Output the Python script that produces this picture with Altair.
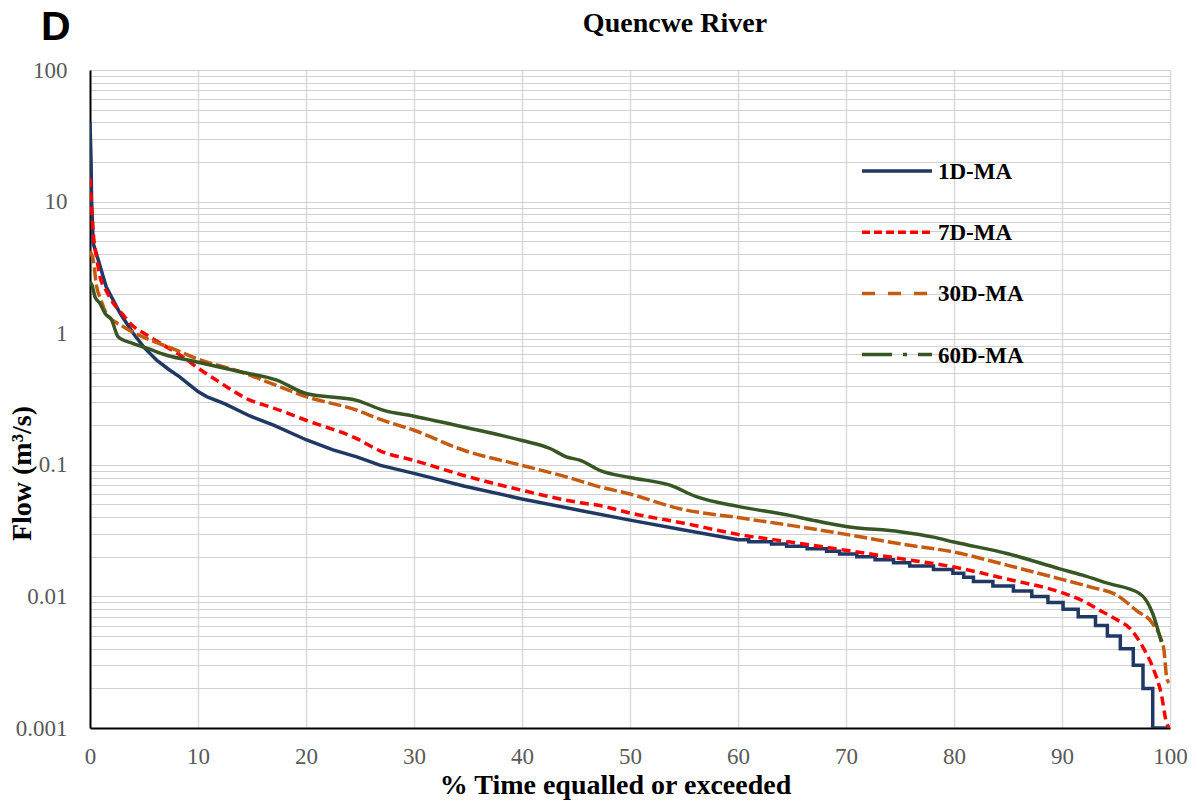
import altair as alt
import pandas as pd

# Flow duration curves, Quencwe River: % of time a flow (m3/s) is equalled or exceeded
series_names = ["1D-MA", "7D-MA", "30D-MA", "60D-MA"]
series_colors = ["#1f3864", "#ff0000", "#c55a11", "#375623"]
plot_dashes = [None, [9, 5], [13, 4], None]
legend_dashes = [None, [8, 4], [13, 13], [30, 11, 4, 11]]
# the 1D curve holds vertical steps, so it stays piecewise linear
curve_interp = ["linear", "monotone", "monotone", "monotone"]

# 1D-MA: smooth upper part, then the stepped low-flow tail (0.001 m3/s resolution)
d1_pct = [0, 0.1, 0.15, 0.3, 0.6, 1.5, 2.8, 4.0, 5.0, 6.2, 7.3, 8.3, 10.0, 10.8,
          12.5, 14.8, 17.0, 20.0, 22.5, 24.7, 26.9, 30.0, 34.6, 40.0, 45.4, 50.0,
          55.0, 60.0]
d1_flow = [40, 20, 10, 4.8, 4.0, 2.25, 1.41, 1.0, 0.78, 0.62, 0.53, 0.466, 0.36,
           0.33, 0.29, 0.235, 0.2, 0.155, 0.13, 0.115, 0.099, 0.086, 0.069, 0.055,
           0.045, 0.038, 0.032, 0.027]
d1_step_pct = [61.0, 63.1, 64.5, 66.4, 68.2, 69.4, 71.0, 72.7, 74.4, 75.9, 78.1,
               79.9, 80.9, 81.8, 83.6, 85.5, 87.2, 88.7, 90.1, 91.5, 93.1, 94.2,
               95.4, 96.6, 97.5, 98.4]
d1_step_flow = [0.026, 0.025, 0.024, 0.023, 0.022, 0.021, 0.020, 0.019, 0.018,
                0.017, 0.016, 0.015, 0.014, 0.013, 0.012, 0.011, 0.010, 0.009,
                0.008, 0.007, 0.006, 0.005, 0.004, 0.003, 0.002, 0.001]
d1_end_pct = 99.8

d7_pct = [0, 0.15, 0.3, 0.6, 0.93, 1.5, 2.16, 3.0, 3.7, 5.25, 7.4, 8.6, 9.9, 11.7,
          14.8, 17.0, 20, 24.7, 26.9, 30, 34.6, 40, 45.4, 47.2, 50, 55, 60, 65, 70,
          75, 80, 85, 89.8, 92, 93.8, 95, 96.3, 97.5, 98.4, 99.2, 99.7, 100]
d7_flow = [15, 9, 5.8, 3.8, 2.68, 2.1, 1.69, 1.4, 1.19, 0.97, 0.76, 0.66, 0.55,
           0.44, 0.31, 0.27, 0.218, 0.158, 0.127, 0.108, 0.083, 0.064, 0.0515,
           0.049, 0.043, 0.036, 0.0296, 0.0258, 0.0224, 0.0194, 0.0167, 0.0135,
           0.0108, 0.0092, 0.0076, 0.0067, 0.0057, 0.0041, 0.0029, 0.0018,
           0.00108, 0.001]

d30_pct = [0, 0.3, 0.6, 1.0, 1.5, 3.1, 5.25, 7.7, 9.9, 13.9, 17.3, 20, 24.7, 26.9,
           30, 34.6, 40, 44.1, 47.2, 50, 54.6, 60, 65, 70, 75, 80, 85, 89.8, 92.6,
           95.1, 96.9, 98.4, 99.4, 99.7, 99.9]
d30_flow = [4.2, 3.6, 2.3, 1.8, 1.42, 1.12, 0.91, 0.76, 0.64, 0.51, 0.40, 0.33,
            0.26, 0.221, 0.183, 0.129, 0.099, 0.081, 0.068, 0.060, 0.0464, 0.0397,
            0.0345, 0.0296, 0.0251, 0.0217, 0.0172, 0.0136, 0.0118, 0.0102, 0.0078,
            0.0062, 0.0041, 0.0024, 0.0022]

d60_pct = [0, 0.2, 0.46, 0.93, 1.4, 2.0, 2.6, 4.0, 5.25, 7.1, 9.9, 13.9, 17.3, 20,
           24.7, 27.2, 30, 34.6, 40, 42.6, 44.1, 45.4, 47.2, 50, 53.7, 56.2, 60,
           64.8, 67, 70, 75, 78.1, 80, 85, 89.8, 91.9, 94.2, 97.2, 98.4, 99.2]
d60_flow = [2.46, 2.3, 1.89, 1.68, 1.41, 1.26, 0.94, 0.835, 0.77, 0.68, 0.605,
            0.51, 0.44, 0.348, 0.309, 0.259, 0.234, 0.194, 0.153, 0.133, 0.115,
            0.108, 0.0908, 0.080, 0.070, 0.057, 0.0483, 0.0413, 0.0378, 0.034,
            0.031, 0.0282, 0.0259, 0.0211, 0.0162, 0.0145, 0.0126, 0.0105, 0.0074,
            0.0045]

x_ticks = list(range(0, 101, 10))
y_decades = [0.001, 0.01, 0.1, 1, 10]
y_ticks = [round(m * d, 6) for d in y_decades for m in range(1, 10)] + [100]

# Assemble the 1D curve: each step is a vertical drop followed by a flat run
p1, f1 = list(d1_pct), list(d1_flow)
prev = d1_flow[-1]
for p, f in zip(d1_step_pct, d1_step_flow):
    p1 += [p, p]
    f1 += [prev, f]
    prev = f
p1.append(d1_end_pct)
f1.append(prev)

curves = [(p1, f1), (d7_pct, d7_flow), (d30_pct, d30_flow), (d60_pct, d60_flow)]

x_scale = alt.Scale(domain=[0, 100], nice=False, zero=False)
y_scale = alt.Scale(type="log", domain=[0.001, 100], nice=False)

serif = "Liberation Serif"
label_color = "#595959"

x_axis = alt.Axis(
    values=x_ticks, title="% Time equalled or exceeded", ticks=False,
    labelFont=serif, labelFontSize=23, labelColor=label_color, labelPadding=17,
    labelFlush=False,
    titleFont=serif, titleFontSize=28, titleFontWeight="bold", titleColor="black",
    titleX=525, titleY=65, titleBaseline="alphabetic", titleAlign="center",
    domainColor="black", domainWidth=2, gridColor="#d9d9d9", gridWidth=1.5,
)
# Grid at every minor log tick; labels only at whole decades
decade_test = "abs(log(datum.value) / LN10 - round(log(datum.value) / LN10)) < 0.001"
y_axis = alt.Axis(
    values=y_ticks, title="Flow (m³/s)", ticks=False, format="~g",
    labelExpr=decade_test + " ? datum.label : ''",
    labelFont=serif, labelFontSize=23, labelColor=label_color, labelPadding=23,
    labelFlush=False,
    titleFont=serif, titleFontSize=28, titleFontWeight="bold", titleColor="black",
    titleAngle=270, titleX=-68, titleY=403, titleBaseline="middle", titleAlign="center",
    domainColor="black", domainWidth=2, gridColor="#d0d0d0", gridWidth=1.2,
)

layers = []
for name, color, dash, interp, (pcts, flows) in zip(
        series_names, series_colors, plot_dashes, curve_interp, curves):
    df = pd.DataFrame({"pct": pcts, "flow": flows, "series": name,
                       "idx": range(len(pcts))})
    mark_kw = dict(color=color, strokeWidth=3.5, clip=True, interpolate=interp)
    if dash:
        mark_kw["strokeDash"] = dash
    layers.append(alt.Chart(df).mark_line(**mark_kw).encode(
        x=alt.X("pct:Q", scale=x_scale, axis=x_axis),
        y=alt.Y("flow:Q", scale=y_scale, axis=y_axis),
        order=alt.Order("idx:Q"),
    ))

# Legend drawn inside the plot area
legend_y0, legend_step = 101, 61.2
for i, (name, color, dash) in enumerate(zip(series_names, series_colors, legend_dashes)):
    ly = legend_y0 + i * legend_step
    ldf = pd.DataFrame({"series": [name]})
    rule_kw = dict(color=color, strokeWidth=3.5)
    if dash:
        rule_kw["strokeDash"] = dash
    layers.append(alt.Chart(ldf).mark_rule(**rule_kw).encode(
        x=alt.value(772), x2=alt.value(842), y=alt.value(ly)))
    layers.append(alt.Chart(ldf).mark_text(
        align="left", baseline="middle", font=serif, fontSize=23,
        fontWeight="bold", color="black").encode(
        x=alt.value(848), y=alt.value(ly + 1), text="series:N"))

title_df = pd.DataFrame({"t": ["Quencwe River"]})
layers.append(alt.Chart(title_df).mark_text(
    align="center", baseline="alphabetic", font=serif, fontSize=28,
    fontWeight="bold", color="black").encode(
    x=alt.value(585), y=alt.value(-38.5), text="t:N"))

panel_df = pd.DataFrame({"t": ["D"]})
layers.append(alt.Chart(panel_df).mark_text(
    align="left", baseline="alphabetic", font="Liberation Sans", fontSize=41,
    fontWeight="bold", color="black").encode(
    x=alt.value(-49), y=alt.value(-30), text="t:N"))

chart = alt.layer(*layers).properties(
    width=1080, height=658,
    autosize=alt.AutoSizeParams(type="none"),
    padding={"left": 90, "top": 70, "right": 27, "bottom": 75},
    background="white",
).configure_view(stroke=None)

chart.save("out.html", embed_options={"renderer": "svg", "actions": False})
